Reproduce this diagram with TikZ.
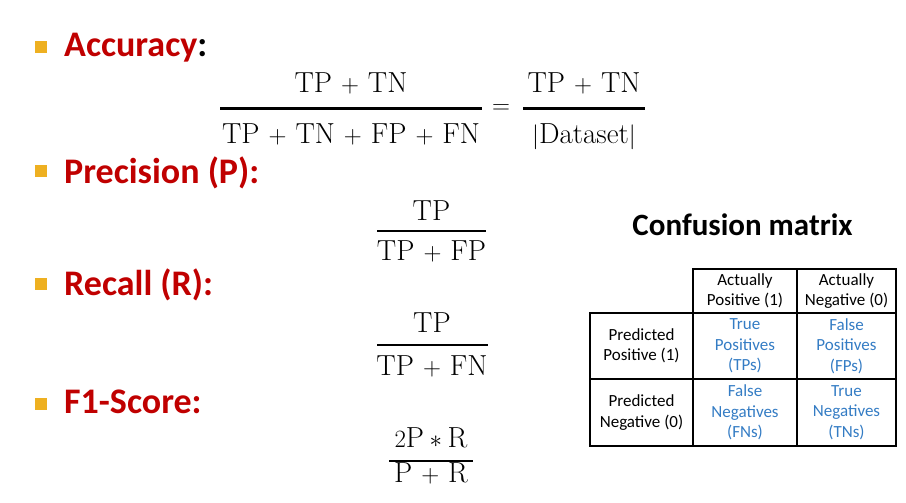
\documentclass[tikz,border=0pt]{standalone}
\usepackage{fontspec}
\newfontfamily\calibri{Carlito}

\definecolor{headred}{RGB}{192,0,0}
\definecolor{bulletgold}{RGB}{238,176,33}
\definecolor{cellblue}{RGB}{52,124,196}

% plus sign with the wider spacing of the reference
\newcommand\tplus{\mathbin{\mskip2.5mu+\mskip2.5mu}}

\begin{document}
\begin{tikzpicture}[x=1pt,y=-1pt,
	head/.style={anchor=base west,inner sep=0pt,text=headred,
		font=\calibri\bfseries\fontsize{36}{40}\selectfont},
	bullet/.style={fill=bulletgold,minimum size=12pt,inner sep=0pt},
	term/.style={anchor=base,inner sep=0pt,font=\fontsize{29}{34}\selectfont},
	bar/.style={line width=2.6pt},
	cell/.style={draw,line width=2.6pt,align=center,inner sep=0pt,
		font=\calibri\fontsize{17}{20.5}\selectfont},
	hit/.style={cell,text=cellblue}]
	\useasboundingbox (0,0) rectangle (906,503);

	% The headings on the left, each with its square bullet
	\node[head] (acc)  at (64,57)  {Accuracy\textcolor{black}{:}};
	\node[head] (prec) at (64,183) {Precision (P):};
	\node[head] (rec)  at (64,295) {Recall (R):};
	\node[head] (fone) at (64,413) {F1-Score:};
	\foreach \y in {47.5,171,284,404}
		\node[bullet] at (41,\y) {};

	% Accuracy: two fractions joined by an equals sign
	\node[term] (accnum) at (351,93)  {$\mathrm{TP}\tplus\mathrm{TN}$};
	\node[term] (accden) at (351,143) {$\mathrm{TP}\tplus\mathrm{TN}\tplus\mathrm{FP}\tplus\mathrm{FN}$};
	\draw[bar] (220,108.7) -- (482,108.7);
	\node[inner sep=0pt,font=\fontsize{29}{34}\selectfont] (eq) at (501,108.7) {$=$};
	\node[term] (dsnum) at (584,93)  {$\mathrm{TP}\tplus\mathrm{TN}$};
	\node[term] (dsden) at (584,143) {$|\mathrm{Dataset}|$};
	\draw[bar] (523,108.7) -- (645,108.7);

	% Precision
	\node[term] (precnum) at (431.5,220) {$\mathrm{TP}$};
	\node[term] (precden) at (431.5,260) {$\mathrm{TP}\tplus\mathrm{FP}$};
	\draw[bar] (377,231) -- (486,231);

	% Recall
	\node[term] (recnum) at (432,332) {$\mathrm{TP}$};
	\node[term] (recden) at (432,375) {$\mathrm{TP}\tplus\mathrm{FN}$};
	\draw[bar] (377,345) -- (488,345);

	% F1-Score
	\node[term] (fnum) at (431,447) {$2\mathrm{P}\ast\mathrm{R}$};
	\node[term] (fden) at (431,482) {$\mathrm{P}\tplus\mathrm{R}$};
	\draw[bar] (389,461) -- (473,461);

	% Confusion matrix: every cell is a node, borders overlap
	\node[anchor=base,inner sep=0pt,font=\calibri\bfseries\fontsize{31}{35}\selectfont]
		(cmtitle) at (742.5,235) {Confusion matrix};
	\node[cell,minimum width=104pt,minimum height=44pt] (ap) at (745,291)   {Actually\\Positive (1)};
	\node[cell,minimum width=99pt,minimum height=44pt]  (an) at (846.5,291) {Actually\\Negative (0)};
	\node[cell,minimum width=103pt,minimum height=66pt] (pp) at (641.5,346) {Predicted\\Positive (1)};
	\node[hit,minimum width=104pt,minimum height=66pt]  (tp) at (745,346)   {True\\Positives\\(TPs)};
	\node[hit,minimum width=99pt,minimum height=66pt]   (fp) at (846.5,346) {False\\Positives\\(FPs)};
	\node[cell,minimum width=103pt,minimum height=67pt] (pn) at (641.5,412.5) {Predicted\\Negative (0)};
	\node[hit,minimum width=104pt,minimum height=67pt]  (fn) at (745,412.5)   {False\\Negatives\\(FNs)};
	\node[hit,minimum width=99pt,minimum height=67pt]   (tn) at (846.5,412.5) {True\\Negatives\\(TNs)};
\end{tikzpicture}
\end{document}
